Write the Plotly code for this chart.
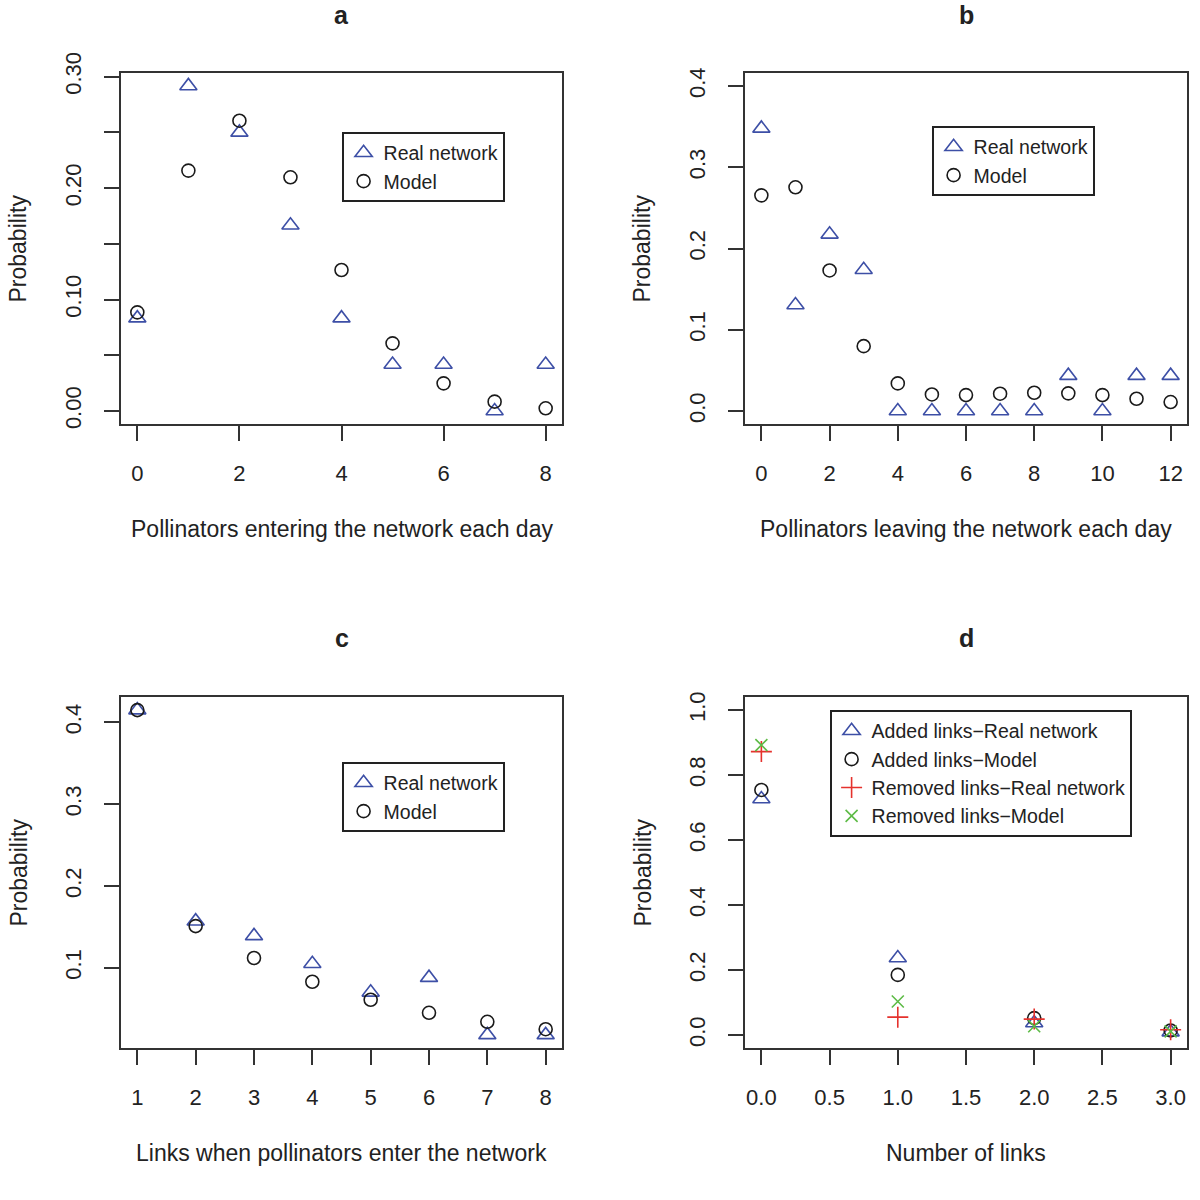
import plotly.graph_objects as go

# ---------------- data ----------------
a_x = [0, 1, 2, 3, 4, 5, 6, 7, 8]
a_real = [0.0833, 0.2917, 0.2500, 0.1667, 0.0833, 0.0417, 0.0417, 0.0, 0.0417]
a_model = [0.0885, 0.2157, 0.2605, 0.2097, 0.1265, 0.0607, 0.0248, 0.0084, 0.0024]

b_x = [0, 1, 2, 3, 4, 5, 6, 7, 8, 9, 10, 11, 12]
b_real = [0.3478, 0.1304, 0.2174, 0.1739, 0.0, 0.0, 0.0, 0.0, 0.0, 0.0435, 0.0, 0.0435, 0.0435]
b_model = [0.2654, 0.2753, 0.1730, 0.0798, 0.0340, 0.0204, 0.0196, 0.0213, 0.0225, 0.0217, 0.0196, 0.0151, 0.0110]

c_x = [1, 2, 3, 4, 5, 6, 7, 8]
c_real = [0.415, 0.157, 0.139, 0.105, 0.070, 0.088, 0.018, 0.018]
c_model = [0.415, 0.151, 0.112, 0.083, 0.061, 0.045, 0.034, 0.025]

d_x = [0, 1, 2, 3]
d_added_real = [0.726, 0.237, 0.037, 0.009]
d_added_model = [0.754, 0.185, 0.052, 0.014]
d_removed_real = [0.872, 0.055, 0.049, 0.016]
d_removed_model = [0.892, 0.103, 0.027, 0.011]

a_yticks = [0.0, 0.05, 0.10, 0.15, 0.20, 0.25, 0.30]
a_ytext = ["0.00", "", "0.10", "", "0.20", "", "0.30"]
b_yticks = [0.0, 0.1, 0.2, 0.3, 0.4]
c_yticks = [0.1, 0.2, 0.3, 0.4]
d_yticks = [0.0, 0.2, 0.4, 0.6, 0.8, 1.0]
d_xticks = [0.0, 0.5, 1.0, 1.5, 2.0, 2.5, 3.0]

titles = ["a", "b", "c", "d"]
xlabels = ["Pollinators entering the network each day",
           "Pollinators leaving the network each day",
           "Links when pollinators enter the network",
           "Number of links"]

# ---------------- style ----------------
FONT = "Liberation Sans, Arial, Helvetica, sans-serif"
TXT = "#222222"
BLUE = "#3d4fa6"
RED = "#e5322d"
GREEN = "#5dbb46"
BLACK = "#1a1a1a"
W = 1200

fig = go.Figure()

def tri(x, y, xa, ya, lg, name="Real network"):
    return go.Scatter(x=x, y=y, mode="markers", name=name, xaxis=xa, yaxis=ya, legend=lg,
                      marker=dict(symbol="triangle-up-open", size=15, color=BLUE,
                                  line=dict(width=1.6, color=BLUE)))

def circ(x, y, xa, ya, lg, name="Model"):
    return go.Scatter(x=x, y=y, mode="markers", name=name, xaxis=xa, yaxis=ya, legend=lg,
                      marker=dict(symbol="circle-open", size=13, color=BLACK,
                                  line=dict(width=1.6, color=BLACK)))

fig.add_trace(tri(a_x, a_real, "x", "y", "legend"))
fig.add_trace(circ(a_x, a_model, "x", "y", "legend"))
fig.add_trace(tri(b_x, b_real, "x2", "y2", "legend2"))
fig.add_trace(circ(b_x, b_model, "x2", "y2", "legend2"))
fig.add_trace(tri(c_x, c_real, "x3", "y3", "legend3"))
fig.add_trace(circ(c_x, c_model, "x3", "y3", "legend3"))
fig.add_trace(tri(d_x, d_added_real, "x4", "y4", "legend4", "Added links\u2212Real network"))
fig.add_trace(circ(d_x, d_added_model, "x4", "y4", "legend4", "Added links\u2212Model"))
fig.add_trace(go.Scatter(x=d_x, y=d_removed_real, mode="markers", name="Removed links\u2212Real network",
                         xaxis="x4", yaxis="y4", legend="legend4",
                         marker=dict(symbol="cross-thin-open", size=15, color=RED,
                                     line=dict(width=1.6, color=RED))))
fig.add_trace(go.Scatter(x=d_x, y=d_removed_model, mode="markers", name="Removed links\u2212Model",
                         xaxis="x4", yaxis="y4", legend="legend4",
                         marker=dict(symbol="x-thin-open", size=12, color=GREEN,
                                     line=dict(width=1.6, color=GREEN))))

# panel geometry in pixels (left, right, top, bottom)
boxes = [(121, 562, 73, 424), (745, 1187, 73, 424), (121, 562, 697, 1048), (745, 1187, 697, 1048)]

def ax_common():
    return dict(showline=True, linecolor="#333333", linewidth=2, mirror=True,
                ticks="outside", ticklen=15, tickwidth=1.6, tickcolor="#333333",
                showgrid=False, zeroline=False, automargin=False,
                tickfont=dict(family=FONT, size=22, color=TXT),
                ticklabelstandoff=14)

xranges = [[-0.32, 8.32], [-0.48, 12.48], [0.72, 8.28], [-0.12, 3.12]]
yranges = [[-0.01167, 0.3033], [-0.016, 0.416], [0.002, 0.431], [-0.04, 1.04]]
xtickvals = [[0, 2, 4, 6, 8], [0, 2, 4, 6, 8, 10, 12], c_x, d_xticks]
xticktext = [None, None, None, ["%.1f" % v for v in d_xticks]]
ytickvals = [a_yticks, b_yticks, c_yticks, d_yticks]
yticktext = [a_ytext, ["%.1f" % v for v in b_yticks], ["%.1f" % v for v in c_yticks],
             ["%.1f" % v for v in d_yticks]]

layout = {}
for i, (l, r, t, b) in enumerate(boxes):
    sx = "" if i == 0 else str(i + 1)
    xa = ax_common()
    xa.update(domain=[l / W, r / W], range=xranges[i], tickvals=xtickvals[i],
              anchor="y" + sx)
    if xticktext[i] is not None:
        xa["ticktext"] = xticktext[i]
    ya = ax_common()
    ya.update(domain=[1 - b / W, 1 - t / W], range=yranges[i], tickvals=ytickvals[i],
              ticktext=yticktext[i], tickangle=-90, anchor="x" + sx)
    layout["xaxis" + sx] = xa
    layout["yaxis" + sx] = ya

fig.update_layout(**layout)

annotations = []
for i, (l, r, t, b) in enumerate(boxes):
    cx = (l + r) / 2 / W
    ty = 15 if i < 2 else 638
    annotations.append(dict(text="<b>%s</b>" % titles[i], x=cx, y=1 - ty / W,
                            xref="paper", yref="paper", showarrow=False,
                            xanchor="center", yanchor="middle",
                            font=dict(family=FONT, size=25, color=TXT)))
    annotations.append(dict(text=xlabels[i], x=cx, y=1 - (b + 105) / W,
                            xref="paper", yref="paper", showarrow=False,
                            xanchor="center", yanchor="middle",
                            font=dict(family=FONT, size=23, color=TXT)))
    annotations.append(dict(text="Probability", x=(l - 103) / W, y=1 - (t + b) / 2 / W,
                            xref="paper", yref="paper", showarrow=False, textangle=-90,
                            xanchor="center", yanchor="middle",
                            font=dict(family=FONT, size=23, color=TXT)))

leg_common = dict(bgcolor="white", bordercolor="#222222", borderwidth=1.6,
                  font=dict(family=FONT, size=19.5, color=TXT),
                  xanchor="left", yanchor="top", tracegroupgap=0, itemsizing="trace")
legpos = [(342, 132), (932, 126), (342, 762), (830, 710)]
legend_layout = {}
for i, (lx, ly) in enumerate(legpos):
    key = "legend" if i == 0 else "legend%d" % (i + 1)
    d = dict(leg_common)
    d.update(x=lx / W, y=1 - ly / W)
    legend_layout[key] = d

fig.update_layout(
    width=1200, height=1200,
    margin=dict(l=0, r=0, t=0, b=0, pad=0, autoexpand=False),
    paper_bgcolor="white", plot_bgcolor="white",
    showlegend=True,
    annotations=annotations,
    **legend_layout,
)

fig.write_html("out.html", config={"displayModeBar": False},
               post_script="document.body.style.margin='0';document.body.style.overflow='hidden';")
